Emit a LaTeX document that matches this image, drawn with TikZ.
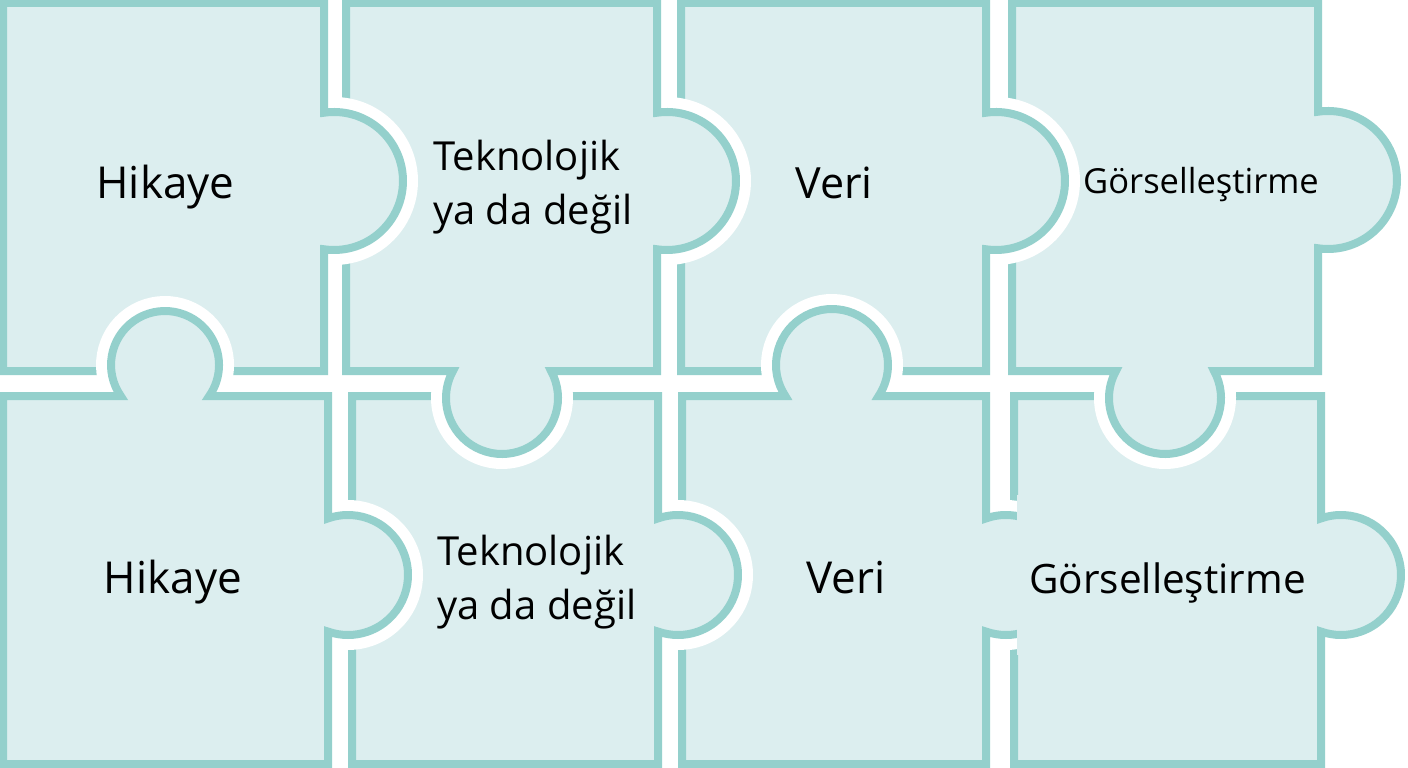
\documentclass[tikz,border=0pt]{standalone}
\usepackage{fontspec}
\setmainfont{Open Sans}
\definecolor{pfill}{RGB}{220,238,239}
\definecolor{pline}{RGB}{148,208,204}
\tikzset{
  halo/.style={draw=white, line width=30pt, line join=round},
  piece/.style={fill=pfill, draw=pline, line width=8pt, line join=miter},
  lbl/.style={inner sep=0pt, text=black, anchor=base}
}
\newcommand\puzzlepiece[1]{\path[halo] #1; \path[piece] #1;}
\begin{document}
\begin{tikzpicture}[x=1pt,y=-1pt]
\useasboundingbox[fill=white] (0,0) rectangle (1408,768);
% P8 bottom Görselleştirme
\puzzlepiece{(1014,396) -- (1321,396) -- (1321,518.43) arc[start angle=-109.47,end angle=109.47,radius=60] -- (1321,764) -- (1014,764) -- cycle}
% P4 top Görselleştirme
\puzzlepiece{(1012,3) -- (1318,3) -- (1318,111.73) arc[start angle=-98.33,end angle=98.33,radius=69] -- (1318,371) -- (1214.06,371) arc[start angle=-28.82,end angle=208.82,radius=56] -- (1012,371) -- cycle}
% P3 top Veri
\puzzlepiece{(681,3) -- (986,3) -- (986,112.73) arc[start angle=-98.33,end angle=98.33,radius=69] -- (986,371) -- (681,371) -- cycle}
% P7 bottom Veri
\puzzlepiece{(682,396) -- (785.36,396) arc[start angle=146.39,end angle=393.61,radius=56] -- (986,396) -- (986,518.43) arc[start angle=-109.47,end angle=109.47,radius=60] -- (986,764) -- (682,764) -- cycle}
\fill[pfill] (1017,495) rectangle (1090,655);
% P6 bottom Teknolojik
\puzzlepiece{(352,396) -- (658,396) -- (658,518.43) arc[start angle=-109.47,end angle=109.47,radius=60] -- (658,764) -- (352,764) -- cycle}
% P2 top Teknolojik
\puzzlepiece{(346,3) -- (657,3) -- (657,112.73) arc[start angle=-98.33,end angle=98.33,radius=69] -- (657,371) -- (551.06,371) arc[start angle=-28.82,end angle=208.82,radius=56] -- (346,371) -- cycle}
% P1 top Hikaye
\puzzlepiece{(3,3) -- (324,3) -- (324,112.73) arc[start angle=-98.33,end angle=98.33,radius=69] -- (324,371) -- (3,371) -- cycle}
% P5 bottom Hikaye
\puzzlepiece{(3,396) -- (120.8,396) arc[start angle=144.97,end angle=395.03,radius=54] -- (328,396) -- (328,518.43) arc[start angle=-109.47,end angle=109.47,radius=60] -- (328,764) -- (3,764) -- cycle}
% labels
\node[lbl, font=\fontsize{44}{53}\selectfont] (t1) at (165.5,198) {Hikaye};
\node[lbl, anchor=base west, font=\fontsize{40}{54}\selectfont] (t2) at (433,170) {\vtop{\baselineskip=54pt\hbox{Teknolojik}\hbox{ya da değil}}};
\node[lbl, font=\fontsize{43}{52}\selectfont] (t3) at (834,198) {Veri};
\node[lbl, font=\fontsize{34.5}{42}\selectfont] (t4) at (1201,193) {Görselleştirme};
\node[lbl, font=\fontsize{44}{53}\selectfont] (b1) at (173,593) {Hikaye};
\node[lbl, anchor=base west, font=\fontsize{40}{54}\selectfont] (b2) at (437,565) {\vtop{\baselineskip=54pt\hbox{Teknolojik}\hbox{ya da değil}}};
\node[lbl, font=\fontsize{44}{53}\selectfont] (b3) at (846,593) {Veri};
\node[lbl, font=\fontsize{40.5}{49}\selectfont] (b4) at (1167.5,593) {Görselleştirme};
\end{tikzpicture}
\end{document}
